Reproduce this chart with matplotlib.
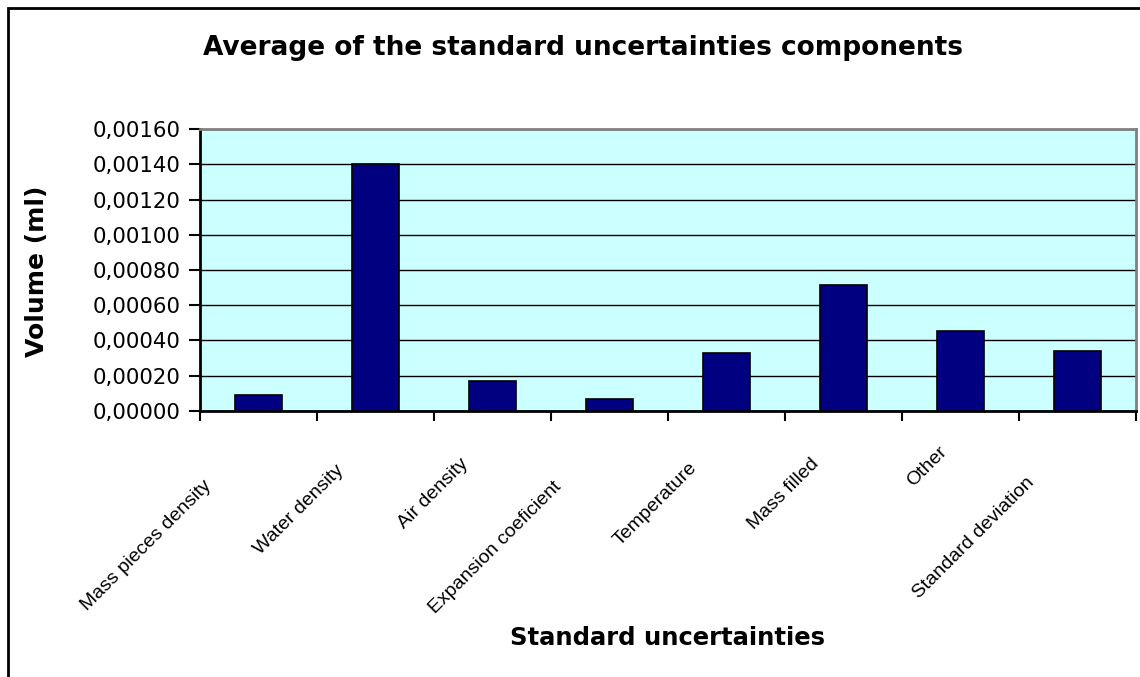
import matplotlib
matplotlib.use("Agg")
import matplotlib.pyplot as plt
import matplotlib.transforms as mtransforms
from matplotlib.patches import Rectangle
from matplotlib.ticker import FixedLocator, FuncFormatter

categories = ["Mass pieces density", "Water density", "Air density",
              "Expansion coeficient", "Temperature", "Mass filled",
              "Other", "Standard deviation"]
values = [0.000087, 0.001405, 0.000167, 0.000064, 0.000326, 0.000714,
          0.000453, 0.000339]
yticks = [0.0, 0.0002, 0.0004, 0.0006, 0.0008, 0.0010, 0.0012, 0.0014, 0.0016]

title = "Average of the standard uncertainties components"
xlabel = "Standard uncertainties"
ylabel = "Volume (ml)"

W, H, DPI = 1140, 677, 100
fig = plt.figure(figsize=(W / DPI, H / DPI), dpi=DPI, facecolor="white")
ax = fig.add_axes([200 / W, 1 - 410.7 / H, 936 / W, (410.7 - 129.3) / H])
ax.set_facecolor("#CCFFFF")

x = list(range(len(categories)))
ax.bar(x, values, width=0.4, color="#000080", edgecolor="black",
       linewidth=1.2, zorder=3)

ax.set_xlim(-0.5, len(categories) - 0.5)
ax.set_ylim(yticks[0], yticks[-1])
ax.yaxis.set_major_locator(FixedLocator(yticks))
ax.yaxis.set_major_formatter(FuncFormatter(lambda v, p: f"{v:.5f}".replace(".", ",")))
ax.grid(axis="y", color="black", linewidth=1.0, zorder=1)
ax.set_axisbelow(True)

ax.xaxis.set_major_locator(FixedLocator([i - 0.5 for i in range(len(categories) + 1)]))
ax.set_xticklabels([])
ax.tick_params(axis="x", direction="out", length=7, width=1.5, color="black")
ax.tick_params(axis="y", direction="out", length=8, width=1.5, color="black",
               pad=6, labelsize=15.3)
for lab in ax.get_yticklabels():
    lab.set_family("DejaVu Sans")

for s in ["left", "bottom"]:
    ax.spines[s].set_color("black")
    ax.spines[s].set_linewidth(2)
for s in ["top", "right"]:
    ax.spines[s].set_color("#808080")
    ax.spines[s].set_linewidth(2)

# category labels, rotated 45 degrees
fig.canvas.draw()
renderer = fig.canvas.get_renderer()
lab_fs = 14
for i, lab in enumerate(categories):
    tmp = fig.text(0, 0, lab, fontsize=lab_fs, family="Liberation Sans")
    L = tmp.get_window_extent(renderer).width * 1.41
    tmp.remove()
    dx_px = -3.0 - 0.187 * L
    dy_px = -(26.0 + 0.187 * L)
    tr = mtransforms.blended_transform_factory(ax.transData, ax.transAxes) + \
        mtransforms.ScaledTranslation(dx_px / DPI, dy_px / DPI, fig.dpi_scale_trans)
    ax.text(i, 0, lab, transform=tr, rotation=45, rotation_mode="anchor",
            ha="right", va="center", fontsize=lab_fs, family="Liberation Sans",
            clip_on=False)

fig.text(583 / W, 1 - 48 / H, title, ha="center", va="center",
         fontsize=19, fontweight="bold", family="DejaVu Sans")
fig.text(668 / W, 1 - 638 / H, xlabel, ha="center", va="center",
         fontsize=17.5, fontweight="bold", family="DejaVu Sans")
fig.text(37 / W, 1 - 271 / H, ylabel, ha="center", va="center", rotation=90,
         fontsize=18, fontweight="bold", family="DejaVu Sans")

# chart border
fig.patches.append(Rectangle((8 / W, -0.1), 1.2, 1 - 8 / H + 0.1,
                             transform=fig.transFigure, fill=False,
                             edgecolor="black", linewidth=2))

fig.savefig("out.png", dpi=DPI)
